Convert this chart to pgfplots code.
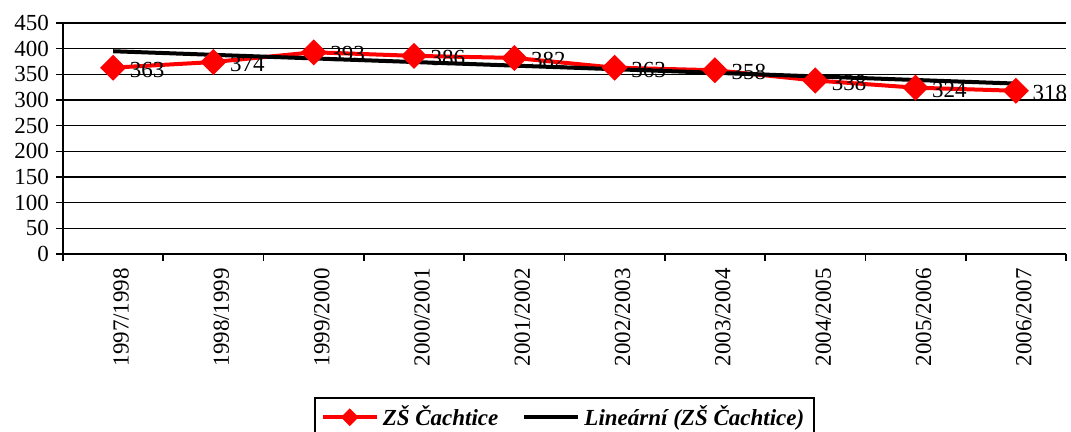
\documentclass[border=0pt]{standalone}
\usepackage{pgfplots}
\pgfplotsset{compat=1.18}
\usepackage{fontspec}
\setmainfont{Liberation Serif}

\begin{document}
\begin{tikzpicture}
\begin{axis}[
    name=ax, at={(0,0)}, anchor=south west,
    scale only axis, width=501.5pt, height=115.5pt,
    xmin=-0.5, xmax=9.5, ymin=0, ymax=450,
    ytick={0,50,...,450},
    xtick={-0.5,0.5,...,9.5},
    x tick label as interval,
    xticklabels={1997/1998,1998/1999,1999/2000,2000/2001,2001/2002,2002/2003,2003/2004,2004/2005,2005/2006,2006/2007},
    x tick label style={rotate=90, anchor=east, yshift=-4pt},
    tick label style={font=\fontsize{11.5}{13}\selectfont},
    /pgf/number format/assume math mode=true,
    axis lines=left, axis line style={-, line width=1pt},
    tick align=outside, major tick length=3.5pt,
    tick style={black, line width=0.8pt},
    ymajorgrids, grid style={black, line width=0.8pt},
    clip=false,
    legend columns=2,
    legend style={at={(axis description cs:0.5,-0.619)}, anchor=north,
        draw=black, line width=0.8pt,
        font=\fontsize{11.5}{13}\selectfont\bfseries\itshape,
        /tikz/every even column/.append style={column sep=10pt}},
]
\addplot[red, line width=2pt, mark=square*, mark size=3.6pt,
    mark options={rotate=45, solid},
    nodes near coords,
    every node near coord/.append style={black, anchor=west, xshift=4pt, yshift=-1pt,
        font=\fontsize{11.5}{13}\selectfont},
    legend image code/.code={
        \draw[red, line width=2pt] (0cm,0cm) -- (0.95cm,0cm);
        \fill[red] (0.475cm,0cm) +(-3pt,0) -- +(0,3pt) -- +(3pt,0) -- +(0,-3pt) -- cycle;}
    ] coordinates {
    (0,363) (1,374) (2,393) (3,386) (4,382)
    (5,363) (6,358) (7,338) (8,324) (9,318)
};
\addlegendentry{ZŠ Čachtice}
\addplot[black, line width=2pt,
    legend image code/.code={\draw[black, line width=2pt] (0cm,0cm) -- (0.95cm,0cm);}
    ] coordinates {(0,395) (9,332)};
\addlegendentry{Lineární (ZŠ Čachtice)}
\end{axis}
\pgfresetboundingbox
\path[use as bounding box] (-31.5pt,-89pt) rectangle (504pt,127pt);
\end{tikzpicture}
\end{document}
